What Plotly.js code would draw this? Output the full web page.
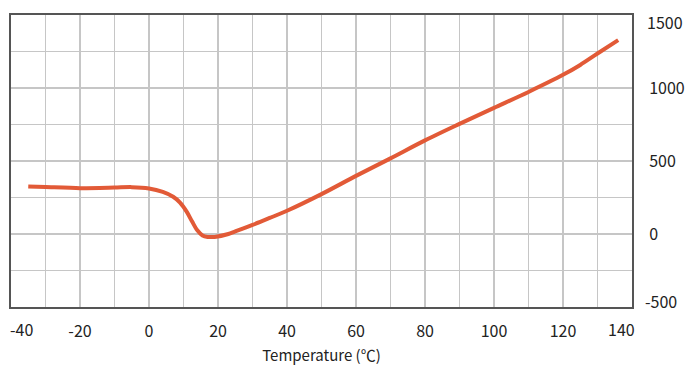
<!DOCTYPE html>
<html>
<head>
<meta charset="utf-8">
<script src="https://cdn.plot.ly/plotly-3.0.1.min.js"></script>
<style>html,body{margin:0;padding:0;background:#fff;}#chart{width:685px;height:365px;}</style>
</head>
<body>
<div id="chart"></div>
<script>
// Data
const temperature = [-35, -30, -20, -10, -5, 0, 4, 7, 9, 11, 12.5, 14, 15.5, 17, 19, 23, 25, 30, 35, 40, 50, 60, 70, 80, 90, 100, 110, 120, 125, 130, 136];
const values      = [326, 322, 314, 318, 321, 312, 288, 255, 215, 150, 85, 25, -10, -20, -20, 0, 18, 62, 110, 159, 273, 398, 518, 641, 754, 864, 973, 1090, 1158, 1236, 1328];
const xTickVals = [-20, 0, 20, 40, 60, 80, 100, 120];
const xTickText = ['-20', '0', '20', '40', '60', '80', '100', '120'];
const xEdgeTicks = [-40, 140];
const yTickVals = [0, 500, 1000];
const yTickText = ['0', '500', '1000'];
const yEdgeTicks = [-500, 1500];

const font = {family: '"Noto Sans CJK KR", "Noto Sans", sans-serif', size: 16, color: '#222'};

const trace = {
  x: temperature, y: values, type: 'scatter', mode: 'lines',
  line: {color: '#E25A37', width: 4, shape: 'spline', smoothing: 0.8},
  hoverinfo: 'skip'
};

const annotations = [
  {xref: 'x', yref: 'paper', x: xEdgeTicks[0], y: 0, text: String(xEdgeTicks[0]), showarrow: false,
   xanchor: 'center', yanchor: 'top', xshift: 10, yshift: -8, font: font},
  {xref: 'x', yref: 'paper', x: xEdgeTicks[1], y: 0, text: String(xEdgeTicks[1]), showarrow: false,
   xanchor: 'center', yanchor: 'top', xshift: -11, yshift: -8, font: font},
  {xref: 'paper', yref: 'y', x: 1, y: yEdgeTicks[0], text: String(yEdgeTicks[0]), showarrow: false,
   xanchor: 'left', yanchor: 'middle', xshift: 11, yshift: 6, font: font},
  {xref: 'paper', yref: 'y', x: 1, y: yEdgeTicks[1], text: String(yEdgeTicks[1]), showarrow: false,
   xanchor: 'left', yanchor: 'middle', xshift: 13, yshift: -7, font: font}
];

const layout = {
  width: 685, height: 365,
  margin: {l: 11, r: 53, t: 15, b: 58, pad: 0},
  paper_bgcolor: '#fff', plot_bgcolor: '#fff',
  showlegend: false,
  font: font,
  xaxis: {
    range: [-40, 140], tickmode: 'array', tickvals: xTickVals, ticktext: xTickText, ticks: '',
    showgrid: false, zeroline: false,
    minor: {dtick: 10, tick0: 0, showgrid: true, gridcolor: '#c6c6c6', gridwidth: 1.2, ticks: ''},
    showline: true, mirror: true, linecolor: '#555', linewidth: 2,
    tickfont: font, ticklabelstandoff: 9,
    title: {text: 'Temperature (℃)', font: {family: font.family, size: 15, color: '#222'}, standoff: 9}
  },
  yaxis: {
    range: [-500, 1500], side: 'right', tickmode: 'array', tickvals: yTickVals, ticktext: yTickText, ticks: '',
    showgrid: false, zeroline: false,
    minor: {dtick: 250, tick0: 0, showgrid: true, gridcolor: '#c6c6c6', gridwidth: 1.2, ticks: ''},
    showline: true, mirror: true, linecolor: '#555', linewidth: 2,
    tickfont: font, ticklabelstandoff: 12
  },
  annotations: annotations
};

Plotly.newPlot('chart', [trace], layout, {displayModeBar: false, staticPlot: true});
</script>
</body>
</html>
